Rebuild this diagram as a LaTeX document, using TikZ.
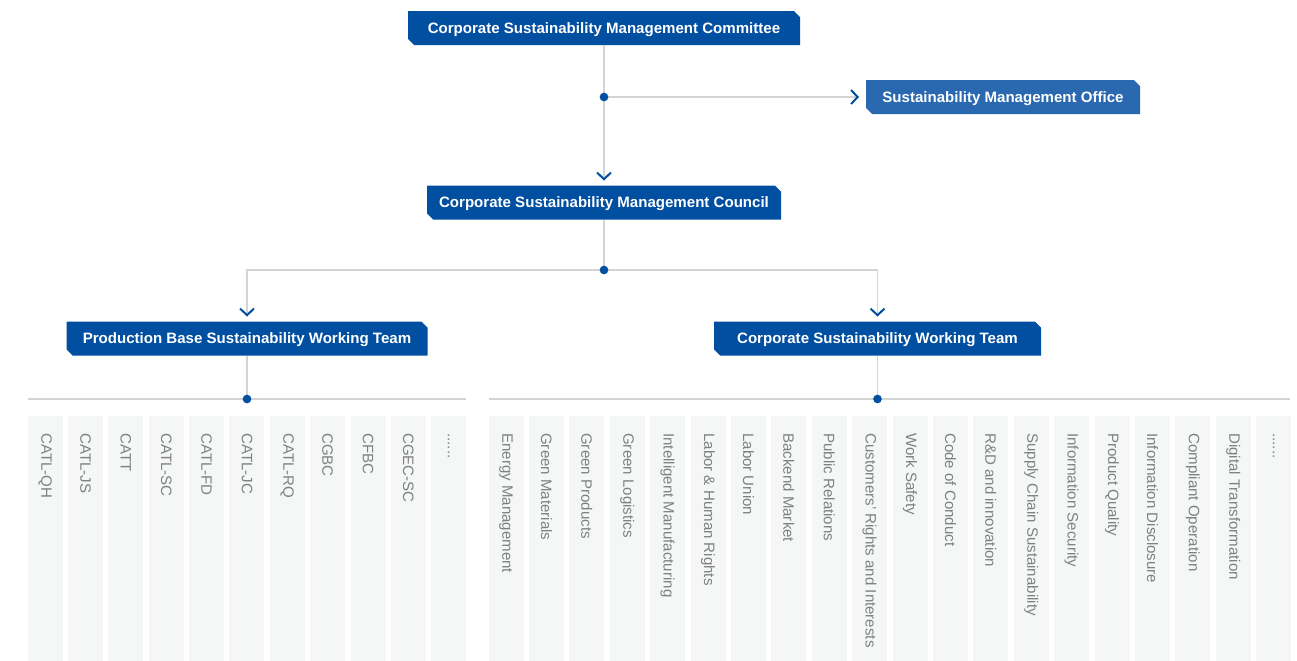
\documentclass[tikz,border=0pt]{standalone}
\usepackage{fontspec}
\setmainfont{Liberation Sans}
\usetikzlibrary{shapes.misc,arrows.meta}

\definecolor{deepblue}{RGB}{0,79,161}
\definecolor{midblue}{RGB}{42,104,176}
\definecolor{linegray}{RGB}{212,212,212}
\definecolor{colfill}{RGB}{245,247,247}
\definecolor{coltext}{RGB}{128,128,128}

\newcommand{\moreitems}{......}

\tikzset{
  unit/.style={chamfered rectangle, chamfered rectangle corners={north east,south west},
    chamfered rectangle xsep=2.3pt, chamfered rectangle ysep=2.3pt,
    fill=deepblue, text=white, font=\fontsize{11.3}{13}\selectfont\bfseries,
    minimum height=25.5pt, inner sep=0pt, text depth=0pt},
  link/.style={draw=linegray, line width=1.1pt},
  into/.style={-{Straight Barb[length=5pt,width=10.5pt,line width=1.5pt,color=deepblue]}, shorten >=3.5pt},
  joint/.style={circle, fill=deepblue, inner sep=0pt, minimum size=6.5pt},
  topic/.style={rotate=-90, anchor=west, text=coltext, font=\fontsize{11.3}{13}\selectfont, inner sep=0pt},
}

\begin{document}
\begin{tikzpicture}[x=0.75pt,y=0.75pt,yscale=-1,xscale=1]
\useasboundingbox (0,0) rectangle (1297,661);

% columns under the production base team
\foreach \t [count=\i from 0] in {CATL-QH,CATL-JS,CATT,CATL-SC,CATL-FD,CATL-JC,CATL-RQ,CGBC,CFBC,CGEC-SC,\moreitems}{
  \fill[colfill] (27.7+40.35*\i,416) rectangle ++(35,245);
  \node[topic] (base\i) at (45.2+40.35*\i,433) {\t};
}
% columns under the corporate team
\foreach \t [count=\i from 0] in {Energy Management,Green Materials,Green Products,Green Logistics,
    Intelligent Manufacturing,Labor \& Human Rights,Labor Union,Backend Market,Public Relations,
    Customers' Rights and Interests,Work Safety,Code of Conduct,R\&D and innovation,
    Supply Chain Sustainability,Information Security,Product Quality,Information Disclosure,
    Compliant Operation,Digital Transformation,\moreitems}{
  \fill[colfill] (488.5+40.4*\i,416) rectangle ++(35,245);
  \node[topic] (corp\i) at (506+40.4*\i,433) {\t};
}

% boxes
\node[unit, minimum width=294pt] (committee) at (604,28) {Corporate Sustainability Management Committee};
\node[unit, minimum width=205.5pt, fill=midblue] (office) at (1003,97) {Sustainability Management Office};
\node[unit, minimum width=265.5pt] (council) at (604,202.5) {Corporate Sustainability Management Council};
\node[unit, minimum width=270.75pt] (teamA) at (247,338.5) {Production Base Sustainability Working Team};
\node[unit, minimum width=245.25pt] (teamB) at (877.5,338.5) {Corporate Sustainability Working Team};

% joints
\coordinate (j1) at (604,97);
\coordinate (j2) at (604,270);
\coordinate (j3) at (247,399);
\coordinate (j4) at (877.5,399);
\coordinate (ra) at (28,399);
\coordinate (rb) at (466,399);
\coordinate (rc) at (489,399);
\coordinate (rd) at (1290,399);

% connectors
\draw[link,into] (committee.south) -- (council.north);
\draw[link,into,shorten >=5pt] (j1) -- (office.west);
\draw[link] (council.south) -- (j2);
\draw[link,into] (j2) -| (teamA.north);
\draw[link,into] (j2) -| (teamB.north);
\draw[link] (teamA.south) -- (j3);
\draw[link] (teamB.south) -- (j4);
\draw[link] (ra) -- (rb);
\draw[link] (rc) -- (rd);

\foreach \j in {j1,j2,j3,j4}
  \node[joint] at (\j) {};

\end{tikzpicture}
\end{document}
